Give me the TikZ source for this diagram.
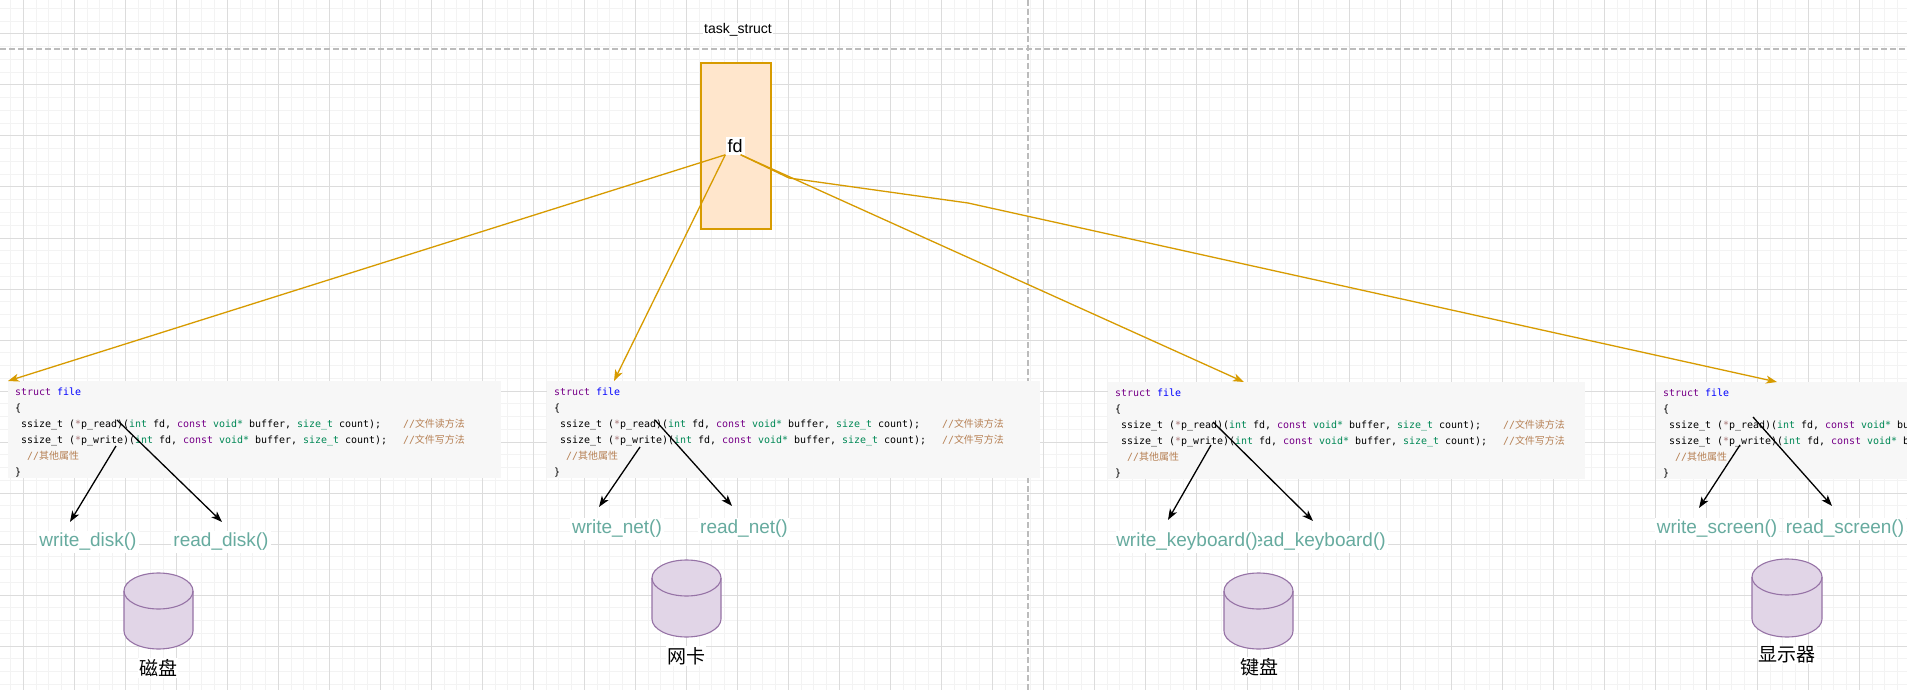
\documentclass[tikz,border=0pt]{standalone}
\usepackage{fontspec}
\setmainfont{Liberation Sans}
\newfontfamily\cjk{Noto Sans CJK SC}
\newfontfamily\codefont{DejaVu Sans Mono}
\usetikzlibrary{arrows.meta}

\definecolor{gridmajor}{RGB}{220,220,220}
\definecolor{gridminor}{RGB}{243,243,243}
\definecolor{sepline}{RGB}{188,188,188}
\definecolor{taskfill}{RGB}{255,230,204}
\definecolor{taskline}{RGB}{215,155,0}
\definecolor{codebg}{RGB}{247,247,247}
\definecolor{kwcol}{RGB}{119,0,136}
\definecolor{defcol}{RGB}{0,0,255}
\definecolor{tycol}{RGB}{0,136,85}
\definecolor{opcol}{RGB}{165,115,115}
\definecolor{comcol}{RGB}{182,128,84}
\definecolor{fncol}{RGB}{103,171,159}
\definecolor{devfill}{RGB}{225,213,231}
\definecolor{devline}{RGB}{150,115,166}

\newcommand\ckw[1]{\textcolor{kwcol}{#1}}
\newcommand\cdef[1]{\textcolor{defcol}{#1}}
\newcommand\cty[1]{\textcolor{tycol}{#1}}
\newcommand\cop[1]{\textcolor{opcol}{#1}}
\newcommand\ccom[1]{\textcolor{comcol}{#1}}
\newcommand\gap[1]{\hspace*{#1pt}}

% struct file, the same text in every box
\newcommand\filecode{%
  \spaceskip=6pt\relax\xspaceskip=6pt\relax\frenchspacing
  \rule{0pt}{14.6pt}\ckw{struct} \cdef{file}\\
  \{\\
  \gap{6}ssize\_t (\cop{*}p\_read)(\cty{int} fd, \ckw{const} \cty{void*} buffer, \cty{size\_t} count);\gap{22}\ccom{//{\cjk 文件读方法}}\\
  \gap{6}ssize\_t (\cop{*}p\_write)(\cty{int} fd, \ckw{const} \cty{void*} buffer, \cty{size\_t} count);\gap{16}\ccom{//{\cjk 文件写方法}}\\
  \gap{12}\ccom{//{\cjk 其他属性}}\\
  \}\rule[-2.4pt]{0pt}{2.4pt}}

% device drum: centre x, centre y, half width, half height
\newcommand\drum[4]{%
  \filldraw[fill=devfill, draw=devline, line width=1.1pt]
    (#1-#3,#2+#4-18) -- (#1-#3,#2-#4+18)
    arc[start angle=180, end angle=360, x radius=#3, y radius=18]
    -- (#1+#3,#2+#4-18)
    arc[start angle=0, end angle=180, x radius=#3, y radius=18] -- cycle;
  \draw[devline, line width=1.1pt] (#1-#3,#2+#4-18)
    arc[start angle=180, end angle=360, x radius=#3, y radius=18];
}

\tikzset{
  codebox/.style={fill=codebg, anchor=north west, inner xsep=7pt, inner ysep=0pt,
    text width=479pt, align=left, minimum height=97pt,
    font={\codefont\fontsize{9.96}{16}\selectfont}},
  taskbox/.style={draw=taskline, fill=taskfill, line width=1.2pt,
    minimum width=70pt, minimum height=166pt, inner sep=0pt},
  fdlabel/.style={fill=white, inner sep=2pt, font=\fontsize{18}{18}\selectfont},
  fnlabel/.style={text=fncol, fill=white, inner sep=2pt, font=\fontsize{19}{19}\selectfont},
  devlabel/.style={fill=white, inner sep=1pt, font={\cjk\fontsize{19}{19}\selectfont}},
  fdptr/.style={-{Stealth[length=11pt,width=8pt,inset=3pt]}, draw=taskline, line width=1.3pt},
  ptr/.style={-{Stealth[length=11pt,width=8pt,inset=3pt]}, draw=black, line width=1.3pt}
}

\begin{document}
\begin{tikzpicture}[x=1pt,y=1pt]
  \clip (0,0) rectangle (1907,-690);
  \fill[white] (0,0) rectangle (1907,-690);
  % grid
  \foreach \k in {0,...,149}
    \draw[gridminor, line width=1pt] (10.55+12.75*\k,0) -- (10.55+12.75*\k,-690);
  \foreach \k in {0,...,53}
    \draw[gridminor, line width=1pt] (0,-8.5-12.75*\k) -- (1907,-8.5-12.75*\k);
  \foreach \k in {0,...,37}
    \draw[gridmajor, line width=1pt] (23.3+51*\k,0) -- (23.3+51*\k,-690);
  \foreach \k in {0,...,13}
    \draw[gridmajor, line width=1pt] (0,-34-51*\k) -- (1907,-34-51*\k);
  \draw[sepline, line width=1.3pt, dash pattern=on 6pt off 3pt] (0,-49) -- (1907,-49);
  \draw[sepline, line width=1.3pt, dash pattern=on 6pt off 3pt] (1028,0) -- (1028,-690);

  % code boxes
  \node[codebox] (cdisk) at (8,-381) {\filecode};
  \node[codebox] (cnet) at (547,-381) {\filecode};
  \node[codebox, text width=463pt] (ckey) at (1108,-382) {\filecode};
  \node[codebox] (cscr) at (1656,-382) {\filecode};

  % task_struct
  \node[font=\fontsize{14}{14}\selectfont, fill=white, inner sep=1pt] (tasklbl) at (738,-30) {task\_struct};
  \node[taskbox] (task) at (736,-146) {};
  \node[fdlabel] (fd) at (735,-146) {fd};

  \draw[fdptr] (fd.south west) -- (cdisk.north west);
  \draw[fdptr] (fd.south west) -- ([xshift=67pt]cnet.north west);
  \draw[fdptr] ([xshift=-4pt]fd.south east) -- ([xshift=136pt]ckey.north west);
  \draw[fdptr] ([xshift=-4pt]fd.south east) -- (789,-178) -- (968,-203) -- ([xshift=121pt]cscr.north west);

  % functions
  \node[fnlabel] (wdisk) at (88,-542) {write\_disk()};
  \node[fnlabel] (rdisk) at (221,-542) {read\_disk()};
  \node[fnlabel] (wnet) at (617,-529) {write\_net()};
  \node[fnlabel] (rnet) at (744,-529) {read\_net()};
  \node[fnlabel] (rkey) at (1316,-542) {read\_keyboard()};
  \node[fnlabel, inner xsep=0pt] (wkey) at (1187,-542) {write\_keyboard()};
  \node[fnlabel] (wscr) at (1717,-529) {write\_screen()};
  \node[fnlabel] (rscr) at (1845,-529) {read\_screen()};

  \coordinate (disk-r) at (117,-420);
  \coordinate (disk-w) at (116,-446);
  \coordinate (net-r) at (655,-420);
  \coordinate (net-w) at (640,-447);
  \coordinate (key-r) at (1213,-422);
  \coordinate (key-w) at (1211,-445);
  \coordinate (scr-r) at (1753,-417);
  \coordinate (scr-w) at (1740,-445);

  \draw[ptr] (disk-r) -- ([xshift=1pt,yshift=9pt]rdisk.north);
  \draw[ptr] (disk-w) -- ([xshift=-18pt,yshift=9pt]wdisk.north);
  \draw[ptr] (net-r) -- ([xshift=-12pt,yshift=12pt]rnet.north);
  \draw[ptr] (net-w) -- ([xshift=-18pt,yshift=11pt]wnet.north);
  \draw[ptr] (key-r) -- ([xshift=-3pt,yshift=10pt]rkey.north);
  \draw[ptr] (key-w) -- ([xshift=-19pt,yshift=11pt]wkey.north);
  \draw[ptr] (scr-r) -- ([xshift=-13pt,yshift=12pt]rscr.north);
  \draw[ptr] (scr-w) -- ([xshift=-18pt,yshift=10pt]wscr.north);

  % devices
  \drum{158.5}{-611}{34.5}{38}
  \drum{686.5}{-598.5}{34.5}{38.5}
  \drum{1258.5}{-611}{34.5}{38}
  \drum{1787}{-598}{35}{39}
  \node[devlabel] (disklbl) at (158,-668) {磁盘};
  \node[devlabel] (netlbl) at (686,-656) {网卡};
  \node[devlabel] (keylbl) at (1259,-667) {键盘};
  \node[devlabel] (scrlbl) at (1787,-655) {显示器};
\end{tikzpicture}
\end{document}
